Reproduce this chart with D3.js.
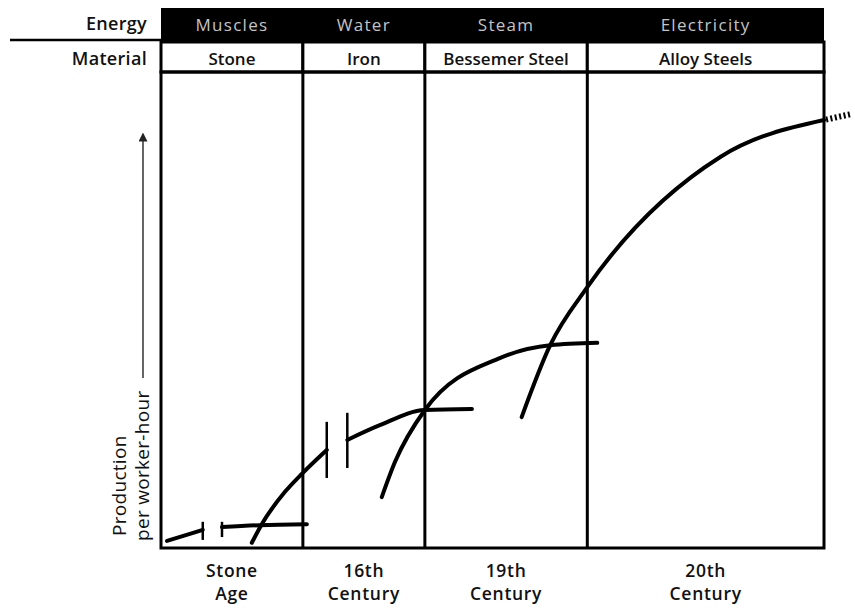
<!DOCTYPE html>
<html>
<head>
<meta charset="utf-8">
<script src="https://cdn.jsdelivr.net/npm/d3@7"></script>
<style>
  body { margin: 0; background: #fff; }
  text { font-family: "Open Sans", "Noto Sans", sans-serif; fill: #111; }
</style>
</head>
<body>
<div id="chart"></div>
<script>
const WIDTH = 855;
const HEIGHT = 608;

// eras: boundaries on a 0..100 time scale
const ERA_EDGES = [0, 21.4, 39.8, 64.3, 100];
const ENERGY = ['Muscles', 'Water', 'Steam', 'Electricity'];
const MATERIAL = ['Stone', 'Iron', 'Bessemer Steel', 'Alloy Steels'];
const PERIODS = [['Stone', 'Age'], ['16th', 'Century'], ['19th', 'Century'], ['20th', 'Century']];

// production curves [t, value] on 0..100 scales
const STONE_A = [[0.9, 1.5], [3.5, 2.6], [6.3, 3.8]];
const STONE_B = [[9.2, 4.4], [14.9, 4.8], [22.0, 5.0]];
const STONE_BREAKS = [[6.3, 1.7, 5.5], [9.2, 2.3, 5.5]];

const IRON_A = [[13.7, 1.1], [15.2, 5.0], [18.7, 11.8], [21.4, 15.8], [25.0, 20.6]];
const IRON_B = [[28.1, 22.7], [33.0, 25.8], [39.8, 29.0], [46.9, 29.2]];
const IRON_BREAKS = [[25.0, 14.7, 26.5], [28.1, 16.8, 28.4]];

const STEEL = [[33.3, 10.7], [35.3, 18.1], [39.8, 29.0], [51.1, 39.9], [58.7, 42.6], [65.8, 43.1]];
const ALLOY = [[54.4, 27.5], [58.7, 42.6], [64.3, 54.8], [84.3, 82.1], [100, 89.9]];
const ALLOY_TAIL = [[100.3, 90.0], [104.2, 91.2]];

document.addEventListener('DOMContentLoaded', function() {
  draw();
});

function draw()
{
  var svg = d3.select('#chart').append('svg')
    .attr('width', WIDTH)
    .attr('height', HEIGHT);

  var x = d3.scaleLinear().domain([0, 100]).range([161, 824]);
  var y = d3.scaleLinear().domain([0, 100]).range([548, 72]);

  var eras = ENERGY.map(function(e, i) {
    return { energy: e, material: MATERIAL[i], period: PERIODS[i], x0: ERA_EDGES[i], x1: ERA_EDGES[i + 1] };
  });
  var mid = function(d) { return x((d.x0 + d.x1) / 2); };

  // energy bar
  svg.append('rect')
    .attr('x', x(0)).attr('y', 8)
    .attr('width', x(100) - x(0)).attr('height', 33)
    .style('fill', '#000');

  svg.selectAll('text.energy')
    .data(eras).enter().append('text')
    .attr('class', 'energy')
    .attr('x', mid)
    .attr('y', 31)
    .attr('text-anchor', 'middle')
    .style('font-size', '17px')
    .style('letter-spacing', '1.3px')
    .style('fill', '#c4c4c4')
    .text(function(d) { return d.energy; });

  // row titles
  svg.append('line')
    .attr('x1', 10).attr('x2', x(0))
    .attr('y1', 40).attr('y2', 40)
    .style('stroke', '#000').style('stroke-width', 2.5);

  svg.append('text').attr('x', 147).attr('y', 30)
    .attr('text-anchor', 'end').style('font-size', '18px').style('font-weight', 600)
    .style('letter-spacing', '0.3px').text('Energy');
  svg.append('text').attr('x', 147).attr('y', 65)
    .attr('text-anchor', 'end').style('font-size', '18px').style('font-weight', 600)
    .style('letter-spacing', '0.3px').text('Material');

  // material row
  svg.selectAll('rect.material')
    .data(eras).enter().append('rect')
    .attr('class', 'material')
    .attr('x', function(d) { return x(d.x0); })
    .attr('y', 42)
    .attr('width', function(d) { return x(d.x1) - x(d.x0); })
    .attr('height', 30)
    .style('fill', '#fff')
    .style('stroke', '#000')
    .style('stroke-width', 3);

  svg.selectAll('text.material')
    .data(eras).enter().append('text')
    .attr('class', 'material')
    .attr('x', mid)
    .attr('y', 65)
    .attr('text-anchor', 'middle')
    .style('font-size', '17px')
    .style('font-weight', 600)
    .text(function(d) { return d.material; });

  // plot frame and era dividers
  svg.append('rect')
    .attr('x', x(0)).attr('y', y(100))
    .attr('width', x(100) - x(0)).attr('height', y(0) - y(100))
    .style('fill', 'none')
    .style('stroke', '#000')
    .style('stroke-width', 3);

  svg.selectAll('line.divider')
    .data(ERA_EDGES.slice(1, -1)).enter().append('line')
    .attr('class', 'divider')
    .attr('x1', function(d) { return x(d); })
    .attr('x2', function(d) { return x(d); })
    .attr('y1', y(100)).attr('y2', y(0))
    .style('stroke', '#000').style('stroke-width', 3);

  // period labels, two tight lines
  var labels = svg.selectAll('text.period')
    .data(eras).enter().append('text')
    .attr('class', 'period')
    .attr('text-anchor', 'middle')
    .style('font-size', '17.5px')
    .style('font-weight', 600)
    .style('letter-spacing', '0.7px');
  labels.append('tspan')
    .attr('x', mid)
    .attr('y', 577)
    .text(function(d) { return d.period[0]; });
  labels.append('tspan')
    .attr('x', mid)
    .attr('y', 600)
    .text(function(d) { return d.period[1]; });

  // y axis label and arrow
  svg.append('defs').append('marker')
    .attr('id', 'arrow')
    .attr('viewBox', '0 0 10 10')
    .attr('refX', 5).attr('refY', 5)
    .attr('markerWidth', 6).attr('markerHeight', 6)
    .attr('orient', 'auto')
    .append('path')
    .attr('d', 'M0,0 L10,5 L0,10 z')
    .style('fill', '#222');

  svg.append('line')
    .attr('x1', 143).attr('x2', 143)
    .attr('y1', 378).attr('y2', 137)
    .style('stroke', '#333').style('stroke-width', 1.5)
    .attr('marker-end', 'url(#arrow)');

  var yLabel = svg.append('text')
    .attr('transform', 'rotate(-90)')
    .style('font-size', '19px')
    .style('font-weight', 500)
    .style('letter-spacing', '0.3px');
  yLabel.append('tspan').attr('x', -536).attr('y', 126).text('Production');
  yLabel.append('tspan').attr('x', -541).attr('y', 149).text('per worker-hour');

  // curves
  var line = d3.line()
    .x(function(d) { return x(d[0]); })
    .y(function(d) { return y(d[1]); })
    .curve(d3.curveMonotoneX);

  var curves = [STONE_A, STONE_B, IRON_A, IRON_B, STEEL, ALLOY];
  svg.selectAll('path.curve')
    .data(curves).enter().append('path')
    .attr('class', 'curve')
    .attr('d', line)
    .style('fill', 'none')
    .style('stroke', '#000')
    .style('stroke-width', 4)
    .style('stroke-linecap', 'round');

  svg.selectAll('line.break')
    .data(STONE_BREAKS.concat(IRON_BREAKS)).enter().append('line')
    .attr('class', 'break')
    .attr('x1', function(d) { return x(d[0]); })
    .attr('x2', function(d) { return x(d[0]); })
    .attr('y1', function(d) { return y(d[1]); })
    .attr('y2', function(d) { return y(d[2]); })
    .style('stroke', '#000').style('stroke-width', 2.5);

  svg.append('path')
    .attr('d', d3.line().x(function(d) { return x(d[0]); }).y(function(d) { return y(d[1]); })(ALLOY_TAIL))
    .style('fill', 'none')
    .style('stroke', '#000')
    .style('stroke-width', 6)
    .style('stroke-dasharray', '2,2.5');
}
</script>
</body>
</html>
